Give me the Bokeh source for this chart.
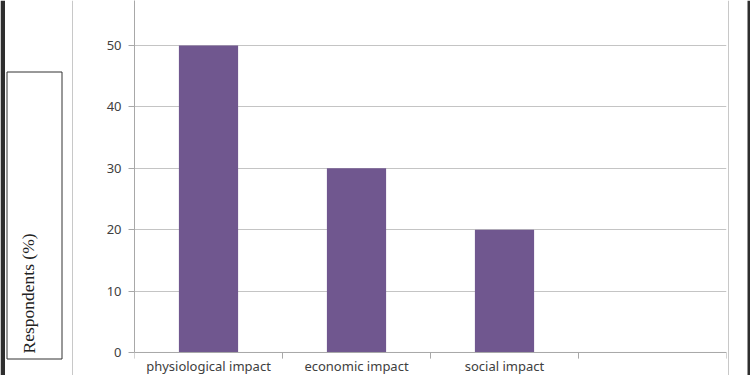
from bokeh.plotting import figure
from bokeh.models import ColumnDataSource, Range1d, FixedTicker
from bokeh.layouts import row
from bokeh.embed import file_html
from bokeh.resources import INLINE
from bokeh.core.properties import value

categories = ["physiological impact", "economic impact", "social impact", ""]
values = [50, 30, 20, 0]
y_label = "Respondents (%)"
y_ticks = [0, 10, 20, 30, 40, 50]

BAR = "#70578f"
GRID = "#c4c4c4"
AXIS = "#a8a8a8"
TXT = "#404040"
DARK = "#2e2e2e"
H = 375


def blank_panel(width, x0):
    f = figure(width=width, height=H, output_backend="svg", toolbar_location=None,
               x_range=Range1d(x0, x0 + width), y_range=Range1d(H, 0),
               x_axis_type=None, y_axis_type=None,
               min_border=0, min_border_left=0, min_border_right=0,
               min_border_top=0, min_border_bottom=0)
    f.outline_line_color = None
    f.xgrid.visible = False
    f.ygrid.visible = False
    return f


# ---------- left panel (y-title box) ----------
left = blank_panel(73, 0)
left.quad(left=[0], right=[4.5], top=[0], bottom=[H], fill_color=DARK, line_color=None)
left.segment(x0=[72], x1=[72], y0=[0], y1=[H], line_color="#c8c8c8", line_width=1)
left.quad(left=[6.5], right=[61.5], top=[71.5], bottom=[358.5], fill_alpha=0,
          line_color="#333333", line_width=1)
left.text(x=[38], y=[353], text=[y_label], angle=1.5708, text_align="left",
          text_baseline="bottom", text_font=value("Liberation Serif"),
          text_font_size="17.5px", text_color="#222222")

# ---------- main chart ----------
n = len(categories)
xs = [i + 0.5 for i in range(n)]
p = figure(width=654, height=H, output_backend="svg", toolbar_location=None,
           x_range=Range1d(0, n), y_range=Range1d(-3.75, 57.33), x_axis_type=None,
           min_border_left=61, min_border_right=1, min_border_top=0, min_border_bottom=0)
p.outline_line_color = None

src = ColumnDataSource(dict(x=xs[:3], val=values[:3]))
p.vbar(x="x", top="val", width=0.4, source=src, fill_color=BAR, line_color=None)

p.yaxis.ticker = FixedTicker(ticks=y_ticks)
p.yaxis.bounds = (0, 57.33)
p.yaxis.minor_tick_line_color = None
p.yaxis.major_tick_in = 0
p.yaxis.major_tick_out = 6
p.yaxis.major_tick_line_color = AXIS
p.yaxis.axis_line_color = AXIS
p.yaxis.major_label_standoff = 7
p.yaxis.major_label_text_font = "Noto Sans"
p.yaxis.major_label_text_font_size = "13px"
p.yaxis.major_label_text_color = TXT
p.ygrid.grid_line_color = GRID
p.xgrid.grid_line_color = None

# x axis line, boundary ticks and category labels
p.segment(x0=[0], x1=[n], y0=[0], y1=[0], line_color=AXIS, line_width=1)
bounds = list(range(n + 1))
p.segment(x0=bounds, x1=bounds, y0=[0] * len(bounds), y1=[-1.0] * len(bounds),
          line_color=AXIS, line_width=1)
lab = ColumnDataSource(dict(x=xs[:3], y=[-0.8] * 3, t=categories[:3]))
p.text(x="x", y="y", text="t", source=lab, text_align="center", text_baseline="top",
       text_font=value("Noto Sans"), text_font_size="13px", text_color=TXT)

# ---------- right edge ----------
right = blank_panel(23, 727)
right.segment(x0=[728], x1=[728], y0=[0], y1=[H], line_color="#c8c8c8", line_width=1)
right.quad(left=[747], right=[750], top=[0], bottom=[H], fill_color=DARK, line_color=None)

layout = row(left, p, right, spacing=0)
open("out.html", "w").write(file_html(layout, INLINE))
